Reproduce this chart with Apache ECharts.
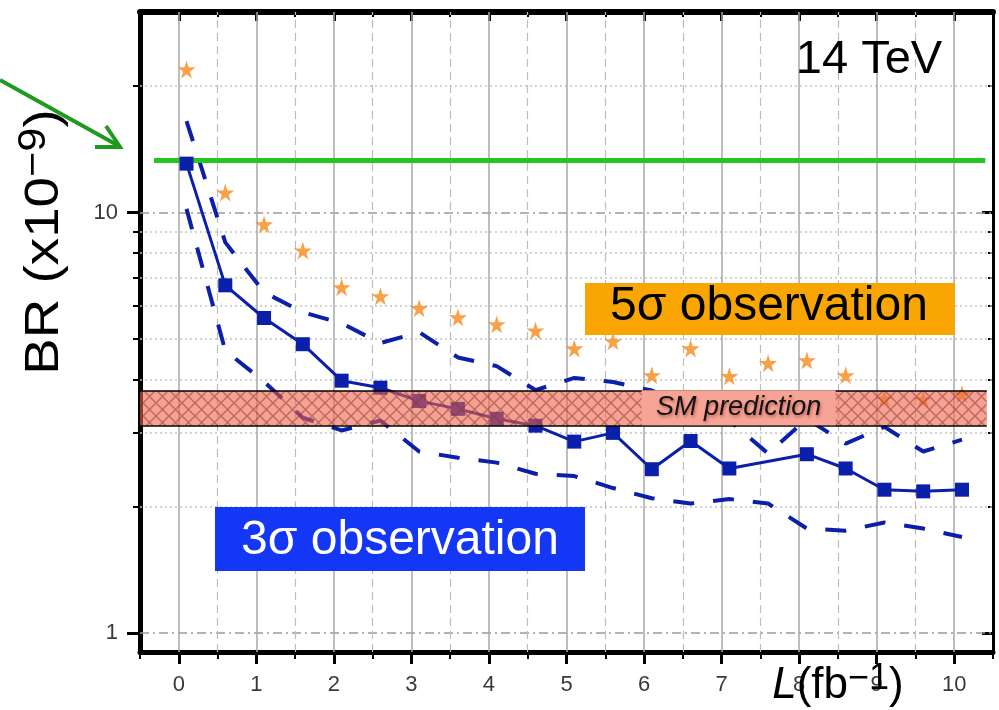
<!DOCTYPE html>
<html><head><meta charset="utf-8">
<script src="https://cdn.jsdelivr.net/npm/echarts@6/dist/echarts.min.js"></script>
<style>html,body{margin:0;padding:0;background:#fff}#c{width:999px;height:710px}</style>
</head><body><div id="c"></div>
<script>
// ---- data ----
const lumi = [0.1,0.6,1.1,1.6,2.1,2.6,3.1,3.6,4.1,4.6,5.1,5.6,6.1,6.6,7.1,7.6,8.1,8.6,9.1,9.6,10.1];
const expected3s = [13.07,6.71,5.61,4.86,3.98,3.83,3.56,3.41,3.23,3.11,2.85,2.99,2.45,2.86,2.46,null,2.66,2.46,2.19,2.17,2.19];
const upper3s = [16.5,8.49,6.46,5.79,5.45,4.89,5.19,4.52,4.31,3.78,4.04,3.95,3.77,3.47,3.20,2.67,3.23,2.82,3.09,2.70,2.88];
const lower3s = [10.2,4.69,3.96,3.25,3.03,3.20,2.70,2.61,2.54,2.39,2.36,2.21,2.09,2.03,2.08,2.03,1.77,1.75,1.83,1.77,1.69];
const obs5s = [21.9,11.16,9.37,8.12,6.64,6.32,5.92,5.63,5.42,5.24,4.75,4.94,4.10,4.75,4.08,4.38,4.45,4.10,3.61,3.60,3.70];
const greenLevel = 13.3;
const greenXRange = [-0.32, 10.4];
const smBand = [3.11, 3.76];
const smXRange = [-0.5, 10.42];
const smLabelAt = [7.22, 3.43];
const xTicks = [0,1,2,3,4,5,6,7,8,9,10];
const xHalfTicks = [0.5,1.5,2.5,3.5,4.5,5.5,6.5,7.5,8.5,9.5];
const yMajor = [1,10];
const yMinor = [1,2,3,4,5,6,7,8,9,10,20];
const yMinorGrid = [2,3,4,5,6,7,8,9,20];

const FF = "'Liberation Sans', Arial, sans-serif";
const BLUE = '#0A1FAA';
const ORANGE = '#F68A1A';

function hatch(){
  const s = 13, c = document.createElement('canvas');
  c.width = s; c.height = s;
  const g = c.getContext('2d');
  g.fillStyle = 'rgba(238,100,78,0.6)'; g.fillRect(0,0,s,s);
  g.strokeStyle = 'rgba(140,50,40,0.5)'; g.lineWidth = 1.5;
  g.beginPath(); g.moveTo(0,0); g.lineTo(s,s); g.moveTo(s,0); g.lineTo(0,s); g.stroke();
  return c;
}
const pair = (ys) => lumi.map((x,i)=>[x, ys[i]]);
const STAR = 'path://M50,0 L61,35 L98,35 L68,57 L79,91 L50,70 L21,91 L32,57 L2,35 L39,35 Z';

const gridLines = [];
yMinorGrid.forEach(v=>gridLines.push({yAxis:v, lineStyle:{color:'#c4c4c4', width:1.5, type:[2,3]}}));
yMajor.forEach(v=>gridLines.push({yAxis:v, lineStyle:{color:'#9a9a9a', width:1.5, type:[9,4,2,4]}}));
xTicks.forEach(v=>gridLines.push({xAxis:v, lineStyle:{color:'#a8a8a8', width:1.5, type:'solid'}}));
xHalfTicks.forEach(v=>gridLines.push({xAxis:v, lineStyle:{color:'#bdbdbd', width:1.2, type:[8,5]}}));

const xBase = {type:'value', min:-0.5, max:10.5, interval:0.5, splitLine:{show:false}, gridIndex:0};
const yBase = {type:'log', logBase:10, min:0.9, max:30, splitLine:{show:false}, minorTick:{show:false}, gridIndex:0};

const chart = echarts.init(document.getElementById('c'), null, {renderer:'canvas'});
chart.setOption({
  animation:false,
  backgroundColor:'#fff',
  grid:{left:140, right:6, top:12, bottom:58, containLabel:false},
  xAxis:[
    Object.assign({}, xBase, {position:'bottom',
      axisLine:{onZero:false, lineStyle:{color:'#000', width:5}},
      axisTick:{show:true, length:7, lineStyle:{color:'#000', width:2}},
      axisLabel:{customValues:xTicks, fontSize:22, color:'#3a3a3a', margin:22, fontFamily:FF}}),
    Object.assign({}, xBase, {position:'bottom',
      axisLine:{show:false, onZero:false},
      axisTick:{show:true, customValues:xTicks, length:12, lineStyle:{color:'#000', width:3}},
      axisLabel:{show:false}}),
    Object.assign({}, xBase, {position:'top',
      axisLine:{onZero:false, lineStyle:{color:'#000', width:6}},
      axisTick:{show:true, inside:true, length:5, lineStyle:{color:'#000', width:2}},
      axisLabel:{show:false}}),
    Object.assign({}, xBase, {position:'top',
      axisLine:{show:false, onZero:false},
      axisTick:{show:true, inside:true, customValues:xTicks, length:9, lineStyle:{color:'#000', width:3}},
      axisLabel:{show:false}})
  ],
  yAxis:[
    Object.assign({}, yBase, {position:'left',
      axisLine:{show:true, onZero:false, lineStyle:{color:'#000', width:5}},
      axisTick:{show:true, customValues:yMinor, length:7, lineStyle:{color:'#000', width:2}},
      axisLabel:{customValues:yMajor, fontSize:22, color:'#3a3a3a', margin:22, fontFamily:FF}}),
    Object.assign({}, yBase, {position:'left',
      axisLine:{show:false, onZero:false},
      axisTick:{show:true, customValues:yMajor, length:13, lineStyle:{color:'#000', width:3}},
      axisLabel:{show:false}}),
    Object.assign({}, yBase, {position:'right',
      axisLine:{show:true, onZero:false, lineStyle:{color:'#000', width:3}},
      axisTick:{show:true, inside:true, customValues:yMinor, length:5, lineStyle:{color:'#000', width:2}},
      axisLabel:{show:false}}),
    Object.assign({}, yBase, {position:'right',
      axisLine:{show:false, onZero:false},
      axisTick:{show:true, inside:true, customValues:yMajor, length:11, lineStyle:{color:'#000', width:3}},
      axisLabel:{show:false}})
  ],
  series:[
    {type:'line', name:'grid', data:[], z:1, silent:true,
      markLine:{z:1, silent:true, symbol:'none', label:{show:false}, animation:false, data:gridLines}},
    {type:'line', name:'upper', data:pair(upper3s), showSymbol:false, symbol:'none', z:3,
      lineStyle:{color:BLUE, width:4, type:[21,19]}},
    {type:'line', name:'lower', data:pair(lower3s), showSymbol:false, symbol:'none', z:3,
      lineStyle:{color:BLUE, width:4, type:[21,19]}},
    {type:'line', name:'green', data:[[greenXRange[0],greenLevel],[greenXRange[1],greenLevel]], symbol:'none', z:3,
      lineStyle:{color:'#22C722', width:5}},
    {type:'line', name:'expected', data:pair(expected3s), connectNulls:true, symbol:'rect', symbolSize:14, z:4,
      lineStyle:{color:BLUE, width:3}, itemStyle:{color:BLUE}},
    {type:'scatter', name:'5sigma', data:pair(obs5s), symbol:STAR, symbolSize:18, z:4,
      itemStyle:{color:ORANGE}},
    {type:'line', name:'sm', data:[], z:10, silent:true,
      markArea:{z:10, silent:true, itemStyle:{color:{image:hatch(), repeat:'repeat'}},
        data:[[{xAxis:smXRange[0], yAxis:smBand[0]},{xAxis:smXRange[1], yAxis:smBand[1]}]]},
      markLine:{z:11, silent:true, symbol:'none', label:{show:false}, lineStyle:{color:'#000', width:1.6, type:'solid'},
        data:[
          [{coord:[smXRange[0], smBand[1]]},{coord:[smXRange[1], smBand[1]]}],
          [{coord:[smXRange[0], smBand[0]]},{coord:[smXRange[1], smBand[0]]}]
        ]}},
    {type:'line', name:'smlabel', data:[], z:12, silent:true,
      markPoint:{z:12, silent:true, symbol:'rect', symbolSize:[194,35], itemStyle:{color:'#F6A495'},
        label:{show:true, formatter:'SM prediction', fontStyle:'italic', fontSize:27, color:'#111', fontFamily:FF,
          textShadowColor:'rgba(110,20,10,0.45)', textShadowBlur:3, textShadowOffsetX:1, textShadowOffsetY:2},
        data:[{coord:smLabelAt}]}}
  ],
  graphic:[
    {type:'polyline', z:100, shape:{points:[[0,80],[119,146]]}, style:{stroke:'#1F9A1F', lineWidth:4, fill:null}},
    {type:'polyline', z:100, shape:{points:[[106,126],[120,147],[95,147]]}, style:{stroke:'#1F9A1F', lineWidth:4, fill:null, lineJoin:'miter'}},
    {type:'text', z:100, x:869, y:60, style:{text:'14 TeV', fontSize:47, fontFamily:FF, fill:'#000',
      align:'center', verticalAlign:'middle', textAlign:'center', textVerticalAlign:'middle'}},
    {type:'rect', z:100, shape:{x:585, y:283, width:370, height:52}, style:{fill:'#F9A603'}},
    {type:'text', z:101, x:769, y:307, style:{text:'5σ observation', fontSize:48, fontFamily:FF, fill:'#000',
      align:'center', verticalAlign:'middle', textAlign:'center', textVerticalAlign:'middle'}},
    {type:'rect', z:100, shape:{x:215, y:507, width:370, height:64}, style:{fill:'#1437F5'}},
    {type:'text', z:101, x:400, y:541, style:{text:'3σ observation', fontSize:48, fontFamily:FF, fill:'#fff',
      align:'center', verticalAlign:'middle', textAlign:'center', textVerticalAlign:'middle'}},
    {type:'text', z:100, x:45, y:242, rotation:Math.PI/2, scaleX:1.14,
      style:{text:'{a|BR (x10}{s|−9}{a|)}', fontFamily:FF, fill:'#000',
        align:'center', verticalAlign:'middle', textAlign:'center', textVerticalAlign:'middle',
        rich:{a:{fontSize:48, lineHeight:58, fontFamily:FF, fill:'#000', color:'#000'},
              s:{fontSize:38, lineHeight:32, fontFamily:FF, verticalAlign:'top', fill:'#000', color:'#000'}}}},
    {type:'text', z:100, x:838, y:686,
      style:{text:'{i|L}{a|(fb}{s|−1}{a|)}', fontFamily:FF, fill:'#000',
        align:'center', verticalAlign:'middle', textAlign:'center', textVerticalAlign:'middle',
        rich:{i:{fontSize:44, lineHeight:50, fontStyle:'italic', fontFamily:FF, fill:'#000', color:'#000'},
              a:{fontSize:44, lineHeight:50, fontFamily:FF, fill:'#000', color:'#000'},
              s:{fontSize:36, lineHeight:40, fontFamily:FF, verticalAlign:'top', fill:'#000', color:'#000'}}}}
  ]
});
</script></body></html>
